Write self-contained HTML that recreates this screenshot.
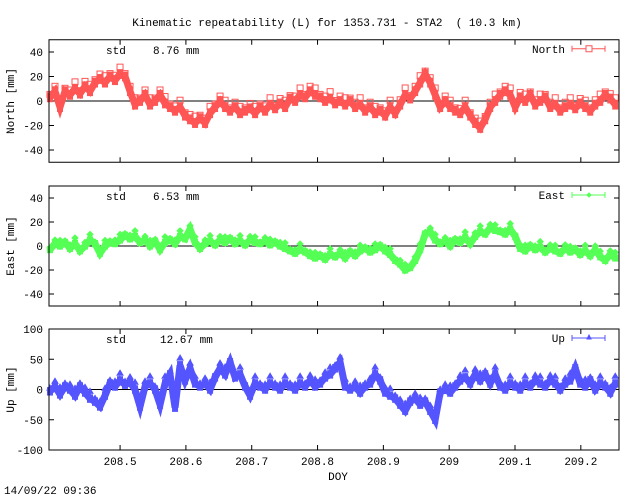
<!DOCTYPE html>
<html><head><meta charset="utf-8">
<style>
html,body{margin:0;padding:0;background:#fff;}
svg{display:block;font-family:"Liberation Mono","DejaVu Sans Mono",monospace;font-size:11px;}
text{white-space:pre;}
</style></head>
<body>
<svg id="chart" width="640" height="496" viewBox="0 0 640 496" xmlns="http://www.w3.org/2000/svg">
<text x="327" y="26" text-anchor="middle" xml:space="preserve">Kinematic repeatability (L) for 1353.731 - STA2  ( 10.3 km)</text>
<text x="338" y="480" text-anchor="middle">DOY</text>
<text x="4" y="494">14/09/22 09:36</text>
</svg>
<script>
const doyStart = 208.3935;
const doyEnd = 209.2523;
const xTicks = [208.5, 208.6, 208.7, 208.8, 208.9, 209, 209.1, 209.2];
const xTickLabels = ["208.5","208.6","208.7","208.8","208.9","209","209.1","209.2"];
const northVals = [3,8,-5,8,5,10,6,12,8,15,18,15,20,17,22,20,8,-3,0,5,-3,0,5,-2,-5,-8,-5,-12,-15,-18,-14,-18,-10,-5,0,-5,-8,-5,-10,-8,-6,-10,-5,-8,-3,-6,-2,-5,2,0,5,3,8,5,3,0,2,-2,0,-3,0,-5,-3,-8,-5,-10,-8,-12,-5,-10,-3,5,2,8,15,22,15,5,-5,0,-5,-8,-10,-5,-12,-18,-22,-15,-5,0,5,8,5,-5,3,0,5,-3,0,3,-5,-3,-8,-5,-3,-6,-2,-5,-8,-3,0,5,2,-3];
const eastVals = [-3,2,0,3,-2,2,-4,0,5,2,-6,0,3,2,5,9,6,8,3,5,0,4,-3,3,5,2,8,6,14,3,-2,2,4,1,5,3,6,2,4,1,5,3,2,4,1,3,0,-2,-4,-6,-3,-5,-8,-10,-8,-11,-7,-9,-6,-10,-5,-8,-4,-2,-5,-3,0,-4,-7,-12,-15,-20,-18,-12,-3,10,12,5,2,4,0,5,3,7,2,8,12,10,15,13,12,10,14,8,-2,-4,0,-3,-1,-5,-2,-4,-6,-2,-5,-3,-7,-4,-8,-3,-9,-12,-7,-10];
const upVals = [-3,5,-8,5,0,-10,5,-5,-15,-20,-28,-10,10,5,15,8,12,0,-28,5,10,0,-25,10,25,-30,40,15,35,10,5,10,0,20,35,25,45,20,25,5,-10,10,5,0,10,5,0,10,5,0,10,5,15,5,10,20,25,35,45,5,0,5,-5,5,10,25,15,-5,-10,-15,-25,-35,-20,-15,-25,-20,-35,-50,-5,0,-5,5,15,20,10,25,15,25,10,25,5,0,10,5,0,10,5,15,10,5,15,10,0,10,15,35,10,5,15,0,10,5,-5,10];
const northTicks = [-40,-20,0,20,40];
const eastTicks = [-40,-20,0,20,40];
const upTicks = [-100,-50,0,50,100];

const NS = "http://www.w3.org/2000/svg";
const svg = document.getElementById('chart');
const X0 = 49, X1 = 619;
const xMin = 208.392, xMax = 209.258;
function xScale(v){ return X0 + (v - xMin) / (xMax - xMin) * (X1 - X0); }
function mk(tag, attrs, parent){
  const e = document.createElementNS(NS, tag);
  for (const k in attrs) e.setAttribute(k, attrs[k]);
  (parent || svg).appendChild(e);
  return e;
}
const panels = [
  {key:'north', label:'North [mm]', vals:northVals, ticks:northTicks, min:-50, max:50, top:39.75, bot:162.25, color:'#ff5555', marker:'square', std:'8.76 mm', legend:'North', err:4},
  {key:'east', label:'East [mm]', vals:eastVals, ticks:eastTicks, min:-50, max:50, top:186, bot:306, color:'#55ff55', marker:'diamond', std:'6.53 mm', legend:'East', err:3},
  {key:'up', label:'Up [mm]', vals:upVals, ticks:upTicks, min:-100, max:100, top:329, bot:450, color:'#5555ff', marker:'triangle', std:'12.67 mm', legend:'Up', err:7}
];
panels.forEach(p => {
  const g = mk('g', {});
  
  
  const yScale = v => p.bot - (v - p.min) / (p.max - p.min) * (p.bot - p.top);
  p.ticks.forEach(t => {
    const y = yScale(t);
    const l1 = mk('line', {x1:X0, x2:X0+5, y1:y, y2:y, stroke:'#000'}, g);
    
    
    mk('line', {x1:X1-5, x2:X1, y1:y, y2:y, stroke:'#000'}, g);
    const tx = mk('text', {x:X0-6, y:y+4, 'text-anchor':'end'}, g);
    tx.textContent = String(t);
    
    
  });
  xTicks.forEach((t, i) => {
    const x = xScale(t);
    mk('line', {x1:x, x2:x, y1:p.bot, y2:p.bot-5, stroke:'#000'}, g);
    mk('line', {x1:x, x2:x, y1:p.top, y2:p.top+5, stroke:'#000'}, g);
    if (p.key === 'up') {
      const tx = mk('text', {x:x, y:p.bot+15, 'text-anchor':'middle'}, g);
      tx.textContent = xTickLabels[i];
      
      
    }
  });
  const z = mk('line', {x1:X0, x2:X1, y1:yScale(0), y2:yScale(0), stroke:'#000'}, g);
  
  
  const sg = mk('g', {fill:p.color, stroke:p.color}, g);
  
  
  const n = p.vals.length;
  const pts = p.vals.map((v, i) => [xScale(doyStart + (doyEnd - doyStart) * i / (n - 1)), yScale(v)]);
  mk('polyline', {points: pts.map(q => q.join(',')).join(' '), fill:'none', 'stroke-width':7, 'stroke-linejoin':'miter'}, sg);
  const ey = (p.bot - p.top) * p.err / (p.max - p.min);
  p.vals.forEach((v, i) => {
    const [x, y] = pts[i];
    mk('rect', {x:x-3, y:y-ey, width:6, height:2*ey, stroke:'none'}, sg);
    let m;
    const my = y - ey - ((i % 3) - 1) * 2;
    if (p.marker === 'square') m = mk('rect', {x:x-3, y:my-3, width:6, height:6, fill:'none'}, sg);
    else if (p.marker === 'diamond') m = mk('polygon', {points:`${x},${my-3} ${x+3},${my} ${x},${my+3} ${x-3},${my}`}, sg);
    else m = mk('polygon', {points:`${x},${my-4} ${x+3},${my+1} ${x-3},${my+1}`}, sg);
    
    
  });
  const fr = mk('rect', {x:X0, y:p.top, width:X1-X0, height:p.bot-p.top, fill:'none', stroke:'#000'}, g);
  
  
  const cy = (p.top + p.bot) / 2;
  const yl = mk('text', {x:14, y:cy, 'text-anchor':'middle', transform:`rotate(-90 14 ${cy})`}, g);
  yl.textContent = p.label;
  
  
  const st = mk('text', {x:106, y:p.top+14}, g);
  st.textContent = 'std';
  
  
  const sv = mk('text', {x:p.key==='up'?160:153, y:p.top+14}, g);
  sv.textContent = p.std;
  
  
  const lt = mk('text', {x:565, y:p.top+13, 'text-anchor':'end'}, g);
  lt.textContent = p.legend;
  
  
  const lg = mk('g', {stroke:p.color, fill:p.color}, g);
  
  
  const ly = p.top + 9;
  mk('line', {x1:572, x2:605, y1:ly, y2:ly}, lg);
  mk('line', {x1:572, x2:572, y1:ly-3, y2:ly+3}, lg);
  mk('line', {x1:605, x2:605, y1:ly-3, y2:ly+3}, lg);
  if (p.marker === 'square') mk('rect', {x:586, y:ly-3, width:6, height:6, fill:'#fff'}, lg);
  else if (p.marker === 'diamond') mk('polygon', {points:`589,${ly-2} 591,${ly} 589,${ly+2} 587,${ly}`}, lg);
  else mk('polygon', {points:`589,${ly-3} 591,${ly+1} 587,${ly+1}`}, lg);
});
</script>
</body></html>
